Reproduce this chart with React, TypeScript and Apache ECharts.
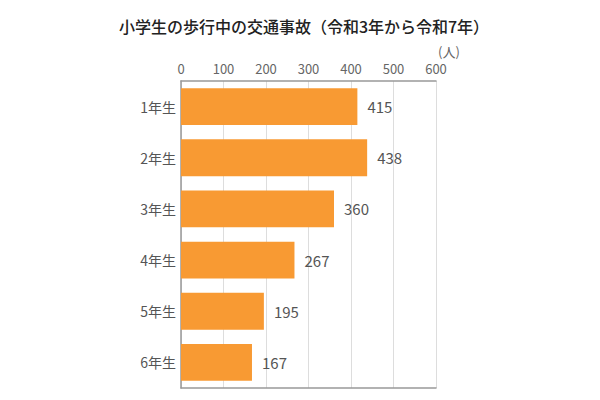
import * as echarts from 'echarts';
import React, { useEffect, useRef } from 'react';

const grades = ['1年生', '2年生', '3年生', '4年生', '5年生', '6年生'];
const accidents = [415, 438, 360, 267, 195, 167];

const FONT = '"Noto Sans CJK JP", "Noto Sans", sans-serif';

const App: React.FC = () => {
  const ref = useRef<HTMLDivElement>(null);

  useEffect(() => {
    const chart = echarts.init(ref.current, null, { renderer: 'svg' });
    chart.setOption({
      animation: false,
      backgroundColor: '#fff',
      textStyle: { fontFamily: FONT },
      title: {
        text: '小学生の歩行中の交通事故（令和3年から令和7年）',
        left: 'center',
        top: 5,
        textStyle: { fontSize: 16, fontWeight: 500, color: '#222', fontFamily: FONT },
      },
      graphic: [
        {
          type: 'text',
          left: 430,
          top: 37,
          style: { text: '(人)', fontSize: 13, fill: '#666', fontFamily: FONT },
        },
      ],
      grid: { left: 173, right: 164, top: 73, bottom: 12 },
      xAxis: [
        {
          type: 'value',
          position: 'top',
          min: 0,
          max: 600,
          interval: 100,
          axisLine: { show: true, lineStyle: { color: '#999', width: 1.5 } },
          axisTick: { show: false },
          axisLabel: { color: '#666', fontSize: 13, margin: 6, fontFamily: FONT },
          splitLine: { show: true, lineStyle: { color: '#ddd' } },
        },
        {
          type: 'value',
          position: 'bottom',
          min: 0,
          max: 600,
          axisLine: { show: true, lineStyle: { color: '#999', width: 1.5 } },
          axisTick: { show: false },
          axisLabel: { show: false },
          splitLine: { show: false },
        },
      ],
      yAxis: {
        type: 'category',
        data: grades,
        inverse: true,
        axisLine: { show: true, lineStyle: { color: '#999', width: 1.5 } },
        axisTick: { show: false },
        axisLabel: { color: '#555', fontSize: 14, margin: 5, fontFamily: FONT },
      },
      series: [
        {
          type: 'bar',
          data: accidents,
          barWidth: '72%',
          itemStyle: { color: '#f89a33' },
          label: {
            show: true,
            position: 'right',
            distance: 10,
            color: '#555',
            fontSize: 15,
            fontFamily: FONT,
          },
        },
      ],
    });
    return () => {
      chart.dispose();
    };
  }, []);

  return <div ref={ref} style={{ width: 592, height: 392 }}></div>;
};

export default App;
